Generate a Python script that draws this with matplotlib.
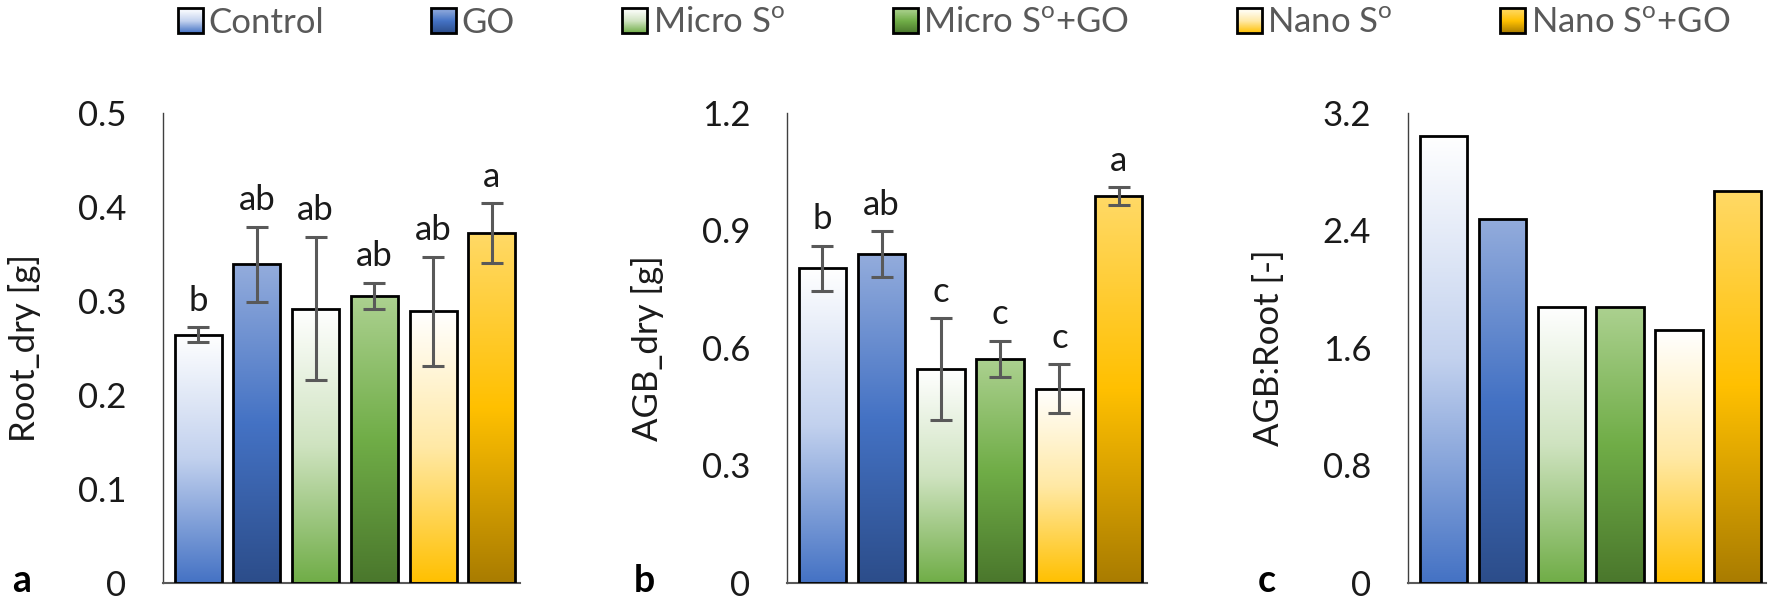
# -*- coding: utf-8 -*-
"""
Root / AGB dry weight and AGB:Root ratio, three bar panels
"""

import numpy as np
import matplotlib
matplotlib.use('Agg')
from matplotlib import pyplot as plt
from matplotlib.colors import LinearSegmentedColormap
from matplotlib.patches import Patch, Rectangle
from matplotlib.legend_handler import HandlerBase
from matplotlib.transforms import blended_transform_factory

plt.rcParams['font.family'] = ['Lato', 'DejaVu Sans']

# data
treatments = ['Control', 'GO', 'Micro S$^\\mathregular{o}$', 'Micro S$^\\mathregular{o}$+GO',
              'Nano S$^\\mathregular{o}$', 'Nano S$^\\mathregular{o}$+GO']

root_dry = [0.264, 0.339, 0.292, 0.305, 0.289, 0.372]
root_err = [0.008, 0.040, 0.076, 0.014, 0.058, 0.032]
root_letters = ['b', 'ab', 'ab', 'ab', 'ab', 'a']

agb_dry = [0.803, 0.840, 0.546, 0.572, 0.496, 0.988]
agb_err = [0.058, 0.058, 0.130, 0.046, 0.062, 0.022]
agb_letters = ['b', 'ab', 'c', 'c', 'c', 'a']

agb_root = [3.04, 2.48, 1.88, 1.88, 1.72, 2.67]

root_ticks = [0, 0.1, 0.2, 0.3, 0.4, 0.5]
root_ticklabels = ['0', '0.1', '0.2', '0.3', '0.4', '0.5']
agb_ticks = [0, 0.3, 0.6, 0.9, 1.2]
agb_ticklabels = ['0', '0.3', '0.6', '0.9', '1.2']
ratio_ticks = [0, 0.8, 1.6, 2.4, 3.2]
ratio_ticklabels = ['0', '0.8', '1.6', '2.4', '3.2']

# gradient fills, top -> bottom
gradients = [
  ['#ffffff', '#c2d1ee', '#4472c4'],
  ['#93acdc', '#4472c4', '#2c4d8a'],
  ['#ffffff', '#cfe3c0', '#70ad47'],
  ['#acd190', '#70ad47', '#4a772c'],
  ['#ffffff', '#ffe9a6', '#ffc000'],
  ['#ffd966', '#ffc000', '#a97c00'],
]
cmaps = [LinearSegmentedColormap.from_list('g%d' % i, c) for i, c in enumerate(gradients)]

TXT = '#1a1a1a'
FS = 25


class GradHandler(HandlerBase):
  def __init__(self, cmap):
    super().__init__()
    self.cmap = cmap

  def create_artists(self, legend, orig_handle, xdescent, ydescent, width, height, fontsize, trans):
    n = 24
    arts = []
    for i in range(n):
      y0 = -ydescent + height * (1 - (i + 1) / n)
      arts.append(Rectangle((-xdescent, y0), width, height / n, facecolor=self.cmap((i + 0.5) / n),
                            edgecolor='none', transform=trans))
    arts.append(Rectangle((-xdescent, -ydescent), width, height, facecolor='none',
                          edgecolor='black', lw=2.0, transform=trans))
    return arts


def panel(ax, values, ticks, ticklabels, ylabel, letter, err=None, sig=None):
  x = np.arange(len(values))
  bars = ax.bar(x, values, width=0.8, facecolor='none', edgecolor='black', lw=2.0, zorder=3)
  for b, cm in zip(bars, cmaps):
    x0, w, h = b.get_x(), b.get_width(), b.get_height()
    img = cm(np.linspace(0, 1, 256))[:, None, :]
    im = ax.imshow(img, extent=(x0, x0 + w, 0, h), aspect='auto', zorder=2, interpolation='bilinear')
    im.set_clip_path(b)
  if err is not None:
    ax.errorbar(x, values, yerr=err, fmt='none', ecolor='#595959', elinewidth=2.2,
                capsize=8, capthick=2.2, zorder=4)
    for xi, v, e, s in zip(x, values, err, sig):
      ax.annotate(s, (xi, v + e), xytext=(0, 12), textcoords='offset points',
                  ha='center', va='baseline', fontsize=FS, color=TXT)
  ax.set_xlim(-0.6, 5.48)
  ax.set_ylim(ticks[0], ticks[-1])
  ax.set_xticks([])
  ax.set_yticks(ticks, labels=ticklabels)
  ax.tick_params(axis='y', length=0, pad=26.5, labelsize=FS, labelcolor=TXT)
  for s in ['top', 'right']:
    ax.spines[s].set_visible(False)
  ax.spines['left'].set_color('#404040')
  ax.spines['left'].set_linewidth(1.0)
  ax.spines['bottom'].set_color('#595959')
  ax.spines['bottom'].set_linewidth(1.5)
  ax.set_ylabel(ylabel, fontsize=FS, color=TXT)
  ax.yaxis.label.set_verticalalignment('center')
  ax.yaxis.set_label_coords(-0.388, 0.5)
  tr = blended_transform_factory(ax.transAxes, ax.transData)
  ax.annotate(letter, (-0.395, 0), xycoords=tr, xytext=(0, -6.5), textcoords='offset points',
              ha='center', va='baseline', fontsize=27, fontweight='bold', color='black')


fig = plt.figure(figsize=(17.7, 6.02), dpi=100)
bottom, height = 0.0316, 0.7807
ax1 = fig.add_axes([0.0921, bottom, 0.2017, height])
ax2 = fig.add_axes([0.4446, bottom, 0.2034, height])
ax3 = fig.add_axes([0.7955, bottom, 0.2023, height])

panel(ax1, root_dry, root_ticks, root_ticklabels, 'Root_dry [g]', 'a', root_err, root_letters)
panel(ax2, agb_dry, agb_ticks, agb_ticklabels, 'AGB_dry [g]', 'b', agb_err, agb_letters)
panel(ax3, agb_root, ratio_ticks, ratio_ticklabels, 'AGB:Root [-]', 'c')

# legend with gradient boxes
handles = [Patch(label=t) for t in treatments]
hmap = {h: GradHandler(cm) for h, cm in zip(handles, cmaps)}
fig.legend(handles=handles, labels=treatments, handler_map=hmap, loc='upper center',
           bbox_to_anchor=(0.539, 1.0), ncol=6, frameon=False, fontsize=FS,
           labelcolor='#595959', handlelength=0.72, handleheight=0.72,
           handletextpad=0.15, columnspacing=3.1, borderpad=0, borderaxespad=0.2)

fig.savefig('out.png', dpi=100)
